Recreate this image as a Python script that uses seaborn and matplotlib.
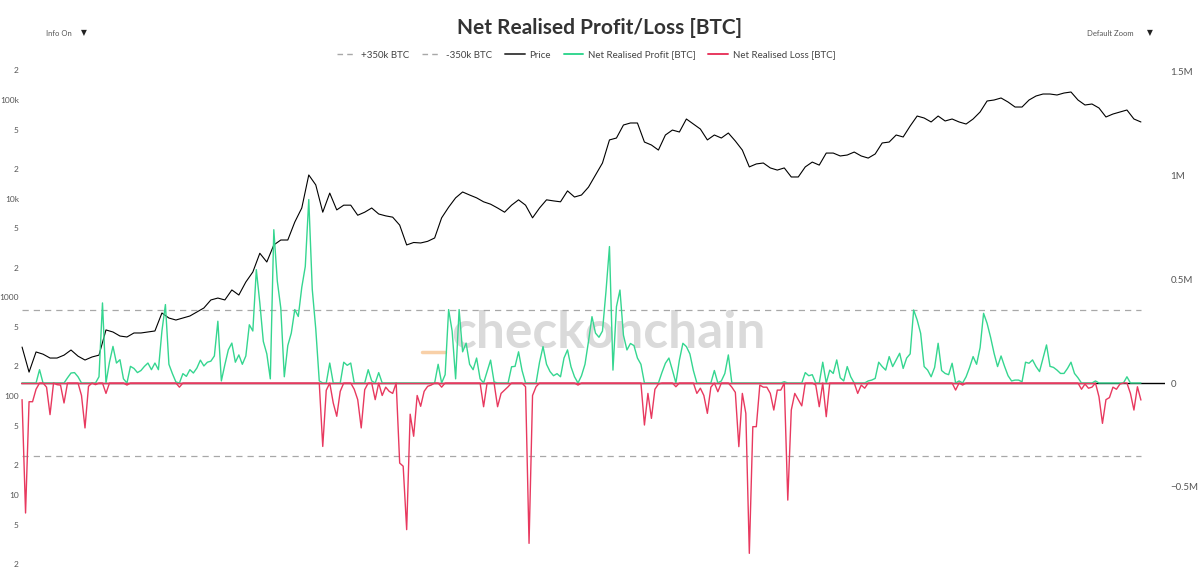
import numpy as np
import pandas as pd
import matplotlib
matplotlib.use("Agg")
import matplotlib.pyplot as plt
import seaborn as sns
from matplotlib.lines import Line2D
from matplotlib.ticker import FixedLocator, FixedFormatter, NullLocator

# ---------------- data ----------------
# BTC price (USD), one reading every ~26 days from Jan 2015
price_usd = [
    314, 175, 280, 266, 243, 243, 260, 293, 254, 232,
    249, 260, 468, 446, 406, 397, 436, 436, 446, 457,
    695, 618, 590, 618, 648, 712, 781, 942, 985, 942,
    1190, 1057, 1432, 1808, 2800, 2284, 3400, 3815, 3815, 5800,
    8050, 17400, 13800, 7300, 11400, 7700, 8600, 8600, 6800, 7300,
    8050, 7000, 6700, 6500, 5400, 3400, 3600, 3560, 3700, 4000,
    6400, 8200, 10200, 11700, 10900, 10200, 9300, 8800, 8050, 7300,
    8600, 9740, 8600, 6400, 8050, 9740, 9500, 9300, 12000, 10400,
    10900, 13100, 17400, 23000, 39400, 41200, 55800, 58500, 58500, 37500,
    35000, 31100, 44200, 49600, 47400, 64200, 57100, 50800, 39400, 44200,
    41200, 46300, 38400, 31100, 21000, 22500, 23000, 20500, 19500, 20500,
    16600, 16600, 21000, 23500, 21900, 29000, 29000, 27100, 27700, 29700,
    27100, 25800, 28400, 36700, 37500, 44200, 42200, 54500, 68800, 65700,
    59900, 68800, 61300, 64200, 59900, 57100, 64200, 75600, 97700, 100000,
    104800, 95400, 84900, 84900, 100000, 109800, 115000, 115000, 112400, 117700,
    120500, 100000, 89000, 91100, 83000, 67300, 72100, 75600, 79200, 64200,
    59900,
]

# net realised profit (+) / loss (-), thousands of BTC, one reading every ~13 days
net_realised_kbtc = [
    -80, -625, -90, -90, -30, 64, 0, -20, -152, 0,
    -8, -10, -96, 25, 48, 50, 30, -60, -216, -16,
    0, -8, 30, 385, -50, 100, 176, 96, 112, 20,
    -10, 80, 70, 50, 60, 80, 96, 64, 96, 64,
    250, 377, 90, 45, 5, -20, 45, 32, 64, 48,
    72, 110, 82, 100, 105, 130, 297, 10, 88, 160,
    192, 100, 135, 90, 130, 280, 250, 545, 385, 200,
    140, 20, 737, 490, 360, 30, 180, 240, 353, 320,
    460, 560, 882, 450, 260, 10, -305, -35, 96, -96,
    -160, -40, 100, 85, 96, -30, -80, -216, -32, 64,
    10, -80, 50, -60, -20, -40, -50, 0, -385, -400,
    -705, -150, -256, -60, -112, -40, -16, -10, 0, 90,
    -20, 40, 353, 250, 20, 353, 150, 192, 90, 64,
    120, 20, -114, 55, 110, 5, -114, -50, -34, -18,
    78, 80, 150, 60, -18, -771, -60, -18, 100, 175,
    90, 55, 35, 45, 30, 120, 159, 78, 30, -10,
    35, 90, 200, 319, 240, 220, 250, 440, 656, 62,
    367, 447, 230, 159, 190, 180, 120, 90, -202, -50,
    -170, -30, -5, 50, 95, 120, 62, -18, 110, 191,
    175, 140, 60, -50, -25, -60, -146, -20, 60, -42,
    10, 46, 135, -20, -45, -306, -50, -146, -819, -210,
    -210, -10, -20, -20, -50, -130, -34, -34, 6, -563,
    -130, -50, -80, -110, 50, 35, 40, -10, -114, 100,
    -162, 62, 46, 111, 25, 10, 79, 30, 0, -50,
    -10, -25, 10, 14, 22, 100, 79, 62, 127, 79,
    111, 143, 70, 120, 140, 351, 303, 239, 79, 62,
    30, 75, 191, 60, 46, 40, 95, -34, 10, -10,
    30, 75, 127, 90, 170, 335, 287, 220, 143, 79,
    130, 80, 35, 10, 14, 14, 6, 100, 95, 111,
    79, 55, 120, 183, 80, 75, 62, 46, 46, 70,
    100, 46, 25, -30, -5, -25, -20, 10, -66, -194,
    -80, -70, -20, -30, -5, 0, 30, -50, -130, -18,
    -82,
]

threshold_btc = 350000

left_ticks = [2e5, 1e5, 5e4, 2e4, 1e4, 5e3, 2e3, 1e3, 500, 200, 100, 50, 20, 10, 5, 2]
left_labels = ["2", "100k", "5", "2", "10k", "5", "2", "1000", "5", "2", "100", "5", "2", "10", "5", "2"]
right_ticks = [1.5e6, 1e6, 5e5, 0, -5e5]
right_labels = ["1.5M", "1M", "0.5M", "0", "\u22120.5M"]

title = "Net Realised Profit/Loss [BTC]"
legend_labels = ["+350k BTC", "-350k BTC", "Price", "Net Realised Profit [BTC]", "Net Realised Loss [BTC]"]

# ---------------- styling ----------------
GREEN = "#35d690"
RED = "#e8395f"
DASH = "#a8a8a8"
TXT = "#555555"

sns.set_theme(style="white")
plt.rcParams["font.family"] = ["Lato", "DejaVu Sans"]

start = pd.Timestamp("2015-01-01")
price_dates = pd.date_range(start, periods=len(price_usd), freq="632h")
net_dates = pd.date_range(start, periods=len(net_realised_kbtc), freq="316h")

net = np.array(net_realised_kbtc, dtype=float) * 1000.0
net_df = pd.DataFrame({
    "date": net_dates,
    "profit": np.where(net > 0, net, 0.0),
    "loss": np.where(net < 0, net, 0.0),
    "upper": [threshold_btc] * len(net_dates),
    "lower": [-threshold_btc] * len(net_dates),
})
price_df = pd.DataFrame({"date": price_dates, "price": price_usd})

fig = plt.figure(figsize=(12, 5.82), dpi=100)
fig.patch.set_facecolor("white")
ax = fig.add_axes([21 / 1200, 10 / 582, 1144 / 1200, 510 / 582])
ax2 = ax.twinx()

# price (log, left)
ax.set_yscale("log")
sns.lineplot(data=price_df, x="date", y="price", ax=ax, color="black", linewidth=0.8, zorder=3)
ax.set_ylim(1.651, 242700)

# net realised profit / loss (linear, right)
ax2.axhline(0, color="black", linewidth=1.0, zorder=1)
sns.lineplot(data=net_df, x="date", y="upper", ax=ax2, color=DASH, linewidth=0.9,
             linestyle=(0, (5, 4)), zorder=2)
sns.lineplot(data=net_df, x="date", y="lower", ax=ax2, color=DASH, linewidth=0.9,
             linestyle=(0, (5, 4)), zorder=2)
sns.lineplot(data=net_df, x="date", y="profit", ax=ax2, color=GREEN, linewidth=1.0, zorder=3)
# red baseline the loss trace sits on for most of the history
ax2.axhline(0, xmin=0.0, xmax=(1095 - 21) / 1144, color=RED, linewidth=1.0, zorder=3.5)
sns.lineplot(data=net_df, x="date", y="loss", ax=ax2, color=RED, linewidth=1.0, zorder=4)
ax2.set_ylim(-908700, 1543400)

ax.set_xlim(start - pd.Timedelta(days=4), start + pd.Timedelta(days=4304))

for a in (ax, ax2):
    for s in a.spines.values():
        s.set_visible(False)
    a.set_xlabel("")
    a.set_ylabel("")
    a.grid(False)
    a.xaxis.set_major_locator(NullLocator())
    a.xaxis.set_minor_locator(NullLocator())
    a.set_facecolor("none")

ax.yaxis.set_major_locator(FixedLocator(left_ticks))
ax.yaxis.set_major_formatter(FixedFormatter(left_labels))
ax.yaxis.set_minor_locator(NullLocator())
ax.tick_params(axis="y", length=0, pad=1.5, labelsize=6, labelcolor=TXT)

ax2.yaxis.set_major_locator(FixedLocator(right_ticks))
ax2.yaxis.set_major_formatter(FixedFormatter(right_labels))
ax2.tick_params(axis="y", length=0, pad=4, labelsize=7, labelcolor=TXT)

# watermark
ax.text(0.5131, 0.4392, "checkonchain", transform=ax.transAxes, ha="center", va="baseline",
        fontsize=37, fontweight="bold", color="#dadada", zorder=1)
ax.plot([0.3505, 0.3706], [0.4314, 0.4314], transform=ax.transAxes, color="#f8d0a8",
        linewidth=2.5, zorder=1)

# title & controls
fig.text(0.5, 1 - 28 / 582, title, ha="center", va="center", fontsize=15,
         fontweight="bold", color="#333333")
fig.text(46 / 1200, 1 - 33 / 582, "Info On", ha="left", va="center", fontsize=5.5, color=TXT)
fig.text(84 / 1200, 1 - 33 / 582, "\u25BC", ha="center", va="center", fontsize=5.5,
         color="#222222", family=["DejaVu Sans"])
fig.text(1087 / 1200, 1 - 33 / 582, "Default Zoom", ha="left", va="center", fontsize=5.5, color=TXT)
fig.text(1150 / 1200, 1 - 33 / 582, "\u25BC", ha="center", va="center", fontsize=5.5,
         color="#222222", family=["DejaVu Sans"])

handles = [
    Line2D([], [], color=DASH, linewidth=1.0, linestyle=(0, (4, 3))),
    Line2D([], [], color=DASH, linewidth=1.0, linestyle=(0, (4, 3))),
    Line2D([], [], color="#444444", linewidth=1.4),
    Line2D([], [], color=GREEN, linewidth=1.4),
    Line2D([], [], color=RED, linewidth=1.4),
]
leg = fig.legend(handles, legend_labels, loc="center", bbox_to_anchor=(586 / 1200, 1 - 55 / 582),
                 ncol=5, frameon=False, fontsize=7, handlelength=2.0, handletextpad=0.5,
                 columnspacing=1.3)
for t in leg.get_texts():
    t.set_color("#444444")

fig.savefig("out.png", dpi=100, facecolor="white")
